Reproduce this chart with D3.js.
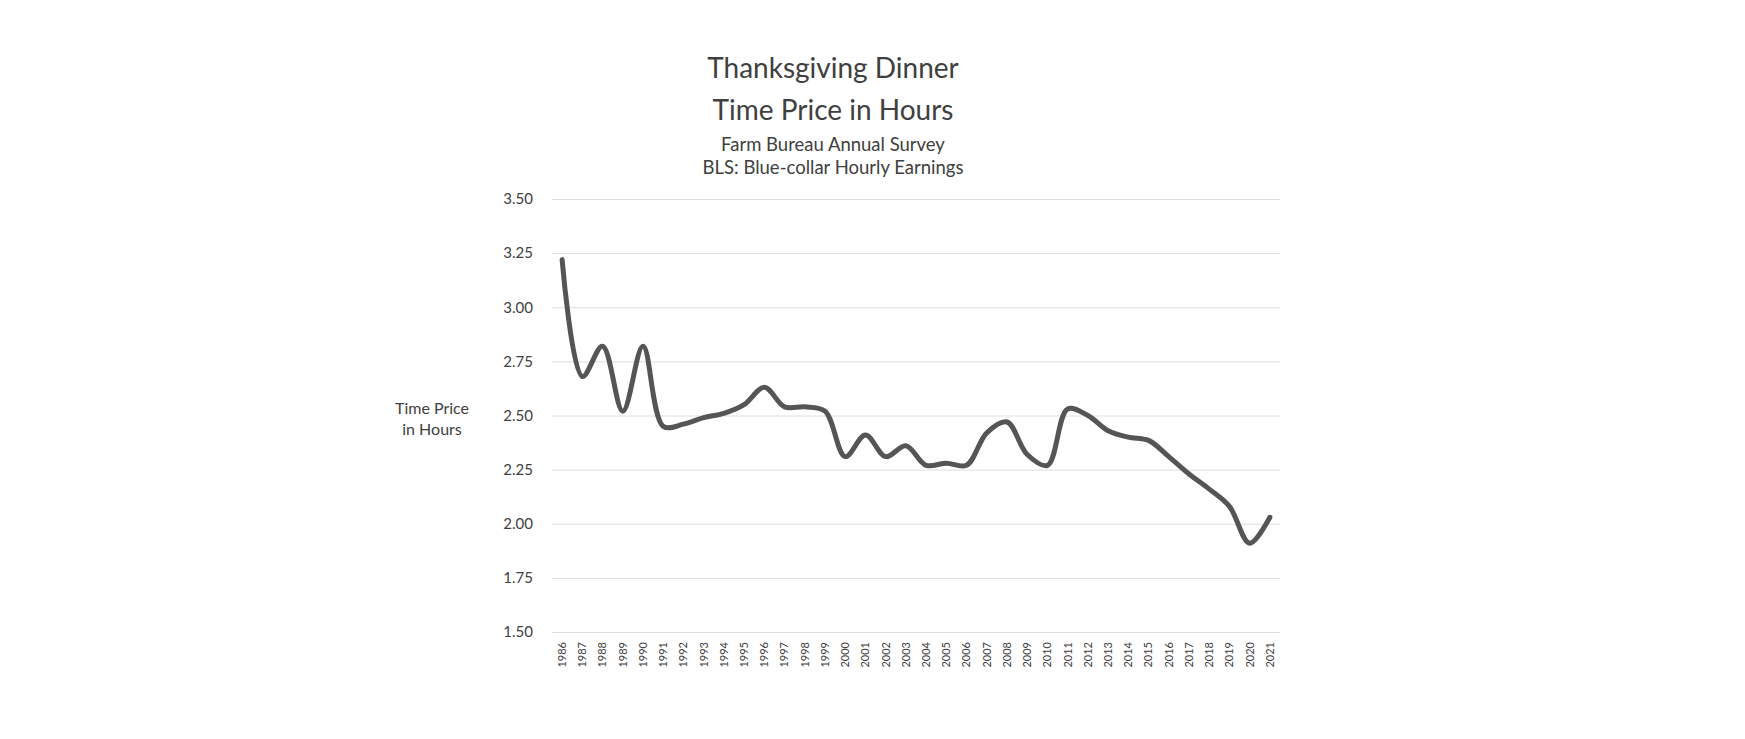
<!DOCTYPE html>
<html>
<head>
<meta charset="utf-8">
<script src="https://cdn.jsdelivr.net/npm/d3@7"></script>
<style>
  body { margin: 0; background: #fff; }
  svg { display: block; }
</style>
</head>
<body>
<svg id="chart"></svg>
<script>
// values
const years = [1986, 1987, 1988, 1989, 1990, 1991, 1992, 1993, 1994, 1995, 1996, 1997,
  1998, 1999, 2000, 2001, 2002, 2003, 2004, 2005, 2006, 2007, 2008, 2009, 2010, 2011,
  2012, 2013, 2014, 2015, 2016, 2017, 2018, 2019, 2020, 2021];
const hours = [3.22, 2.68, 2.82, 2.52, 2.82, 2.45, 2.46, 2.49, 2.51, 2.55, 2.63, 2.54,
  2.54, 2.52, 2.31, 2.41, 2.31, 2.36, 2.27, 2.28, 2.27, 2.42, 2.47, 2.32, 2.27, 2.53,
  2.50, 2.43, 2.40, 2.385, 2.31, 2.23, 2.16, 2.08, 1.91, 2.03];
const yTicks = [1.50, 1.75, 2.00, 2.25, 2.50, 2.75, 3.00, 3.25, 3.50];
const titleLines = ["Thanksgiving Dinner", "Time Price in Hours"];
const subtitleLines = ["Farm Bureau Annual Survey", "BLS: Blue-collar Hourly Earnings"];
const yLabelLines = ["Time Price", "in Hours"];

let width = 1745;
let height = 739;
let font_family = "Lato, 'Open Sans', sans-serif";
let text_color = "#404040";

let plot_left = 552, plot_right = 1280, plot_top = 199, plot_bottom = 632;

let svg = d3.select("#chart")
    .attr("width", width)
    .attr("height", height)
    .style("background-color", "white");

let x = d3.scaleBand()
    .domain(years)
    .range([plot_left, plot_right])
    .padding(0);

let y = d3.scaleLinear()
    .domain([1.5, 3.5])
    .range([plot_bottom, plot_top]);

// gridlines
svg.append("g")
    .attr("transform", "translate(" + plot_left + ",0)")
    .call(d3.axisLeft(y).tickValues(yTicks).tickSize(-(plot_right - plot_left)).tickFormat(""))
    .call(g => g.select(".domain").remove())
    .call(g => g.selectAll("line").attr("stroke", "#dedede").attr("stroke-width", 1));

// y tick labels
svg.append("g")
    .attr("transform", "translate(533,0)")
    .call(d3.axisLeft(y).tickValues(yTicks).tickSize(0).tickPadding(0).tickFormat(d3.format(".2f")))
    .call(g => g.select(".domain").remove())
    .call(g => g.selectAll("text")
        .attr("fill", text_color)
        .attr("font-family", font_family)
        .attr("font-size", "15px"));

// x tick labels, rotated
svg.append("g")
    .attr("transform", "translate(0," + plot_bottom + ")")
    .call(d3.axisBottom(x).tickSize(0).tickPadding(0))
    .call(g => g.select(".domain").remove())
    .call(g => g.selectAll("text")
        .attr("fill", text_color)
        .attr("font-family", font_family)
        .attr("font-size", "11px")
        .attr("text-anchor", "end")
        .attr("dy", "0.35em")
        .attr("transform", "translate(0,10) rotate(-90)")
        .attr("x", 0)
        .attr("y", 0));

// the line
let line = d3.line()
    .x((d, i) => x(years[i]) + x.bandwidth() / 2)
    .y(d => y(d))
    .curve(d3.curveCatmullRom.alpha(0.5));

svg.append("path")
    .datum(hours)
    .attr("fill", "none")
    .attr("stroke", "#555555")
    .attr("stroke-width", 5)
    .attr("stroke-linejoin", "round")
    .attr("stroke-linecap", "round")
    .attr("d", line);

// titles
let cx = 833;
svg.selectAll(".title")
    .data(titleLines)
    .enter().append("text")
    .attr("x", cx)
    .attr("y", (d, i) => 78 + i * 42)
    .attr("text-anchor", "middle")
    .attr("font-family", font_family)
    .attr("font-size", "28px")
    .attr("fill", text_color)
    .text(d => d);

svg.selectAll(".subtitle")
    .data(subtitleLines)
    .enter().append("text")
    .attr("x", cx)
    .attr("y", (d, i) => 151 + i * 23)
    .attr("text-anchor", "middle")
    .attr("font-family", font_family)
    .attr("font-size", "18.5px")
    .attr("fill", text_color)
    .text(d => d);

// y axis title
svg.selectAll(".ylabel")
    .data(yLabelLines)
    .enter().append("text")
    .attr("x", 432)
    .attr("y", (d, i) => 414 + i * 21)
    .attr("text-anchor", "middle")
    .attr("font-family", font_family)
    .attr("font-size", "16px")
    .attr("fill", text_color)
    .text(d => d);
</script>
</body>
</html>
